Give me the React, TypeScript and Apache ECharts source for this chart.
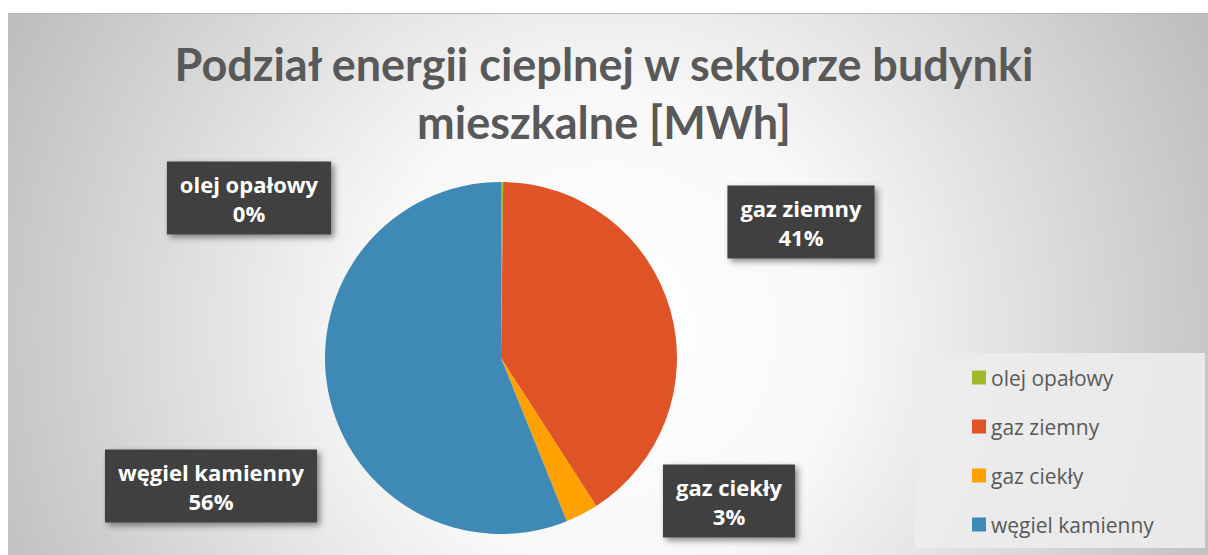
import React, { useEffect, useRef } from "react";
import * as echarts from "echarts";

const titleLines = ["Podział energii cieplnej w sektorze budynki", "mieszkalne [MWh]"];
const categories = ["olej opałowy", "gaz ziemny", "gaz ciekły", "węgiel kamienny"];
const shares = [0.2, 40.7, 3.0, 56.1];
const colors = ["#a5b82a", "#e05326", "#ffa101", "#3f89b6"];

export default function App() {
  const ref = useRef<HTMLDivElement>(null);
  useEffect(() => {
    if (!ref.current) return;
    const chart = echarts.init(ref.current, null, { renderer: "svg" });
    const total = shares.reduce((a, b) => a + b, 0);
    const labelCenters = [
      [249, 198],
      [801, 222],
      [729, 501],
      [211, 486],
    ];
    chart.setOption({
      animation: false,
      backgroundColor: "#ffffff",
      graphic: [
        {
          type: "rect",
          z: -10,
          silent: true,
          shape: { x: 8, y: 13, width: 1200, height: 542 },
          style: {
            fill: new echarts.graphic.RadialGradient(608, 330, 680, [
              { offset: 0, color: "#ffffff" },
              { offset: 0.35, color: "#f8f8f8" },
              { offset: 1, color: "#bcbcbc" },
            ], true),
          },
        },
        {
          type: "line",
          z: -9,
          silent: true,
          shape: { x1: 8, y1: 13.5, x2: 1208, y2: 13.5 },
          style: { stroke: "#b4b4b4", lineWidth: 1 },
        },
        {
          type: "rect",
          z: -8,
          silent: true,
          shape: { x: 915, y: 353, width: 290, height: 195 },
          style: { fill: "rgba(236,236,236,0.9)" },
        },
      ],
      title: {
        text: titleLines.join("\n"),
        left: "center",
        top: 30,
        textStyle: {
          fontFamily: "Lato",
          fontWeight: "bold",
          fontSize: 45,
          lineHeight: 58,
          color: "#595959",
        },
      },
      legend: {
        orient: "vertical",
        left: 967,
        top: 362,
        itemWidth: 14,
        itemHeight: 14,
        itemGap: 28,
        icon: "rect",
        data: categories,
        textStyle: {
          fontFamily: "Open Sans",
          fontSize: 21,
          lineHeight: 21,
          color: "#595959",
          padding: [0, 0, 0, 0],
        },
      },
      series: [
        {
          type: "pie",
          center: [501, 358],
          radius: 176,
          startAngle: 90,
          clockwise: true,
          avoidLabelOverlap: false,
          data: categories.map((name, i) => ({
            name,
            value: shares[i],
            itemStyle: { color: colors[i] },
          })),
          labelLine: { show: false },
          label: {
            show: true,
            formatter: (p: any) => `${p.name}\n${Math.round((p.value / total) * 100)}%`,
            color: "#ffffff",
            fontFamily: "Open Sans",
            fontWeight: "bold",
            fontSize: 22,
            lineHeight: 29,
            align: "center",
            backgroundColor: "#414141",
            padding: [8, 13, 7, 13],
            shadowColor: "rgba(0,0,0,0.45)",
            shadowBlur: 6,
            shadowOffsetX: 3,
            shadowOffsetY: 3,
          },
          labelLayout: (params: any) => {
            const c = labelCenters[params.dataIndex];
            return { x: c[0], y: c[1], align: "center", verticalAlign: "middle" };
          },
          emphasis: { disabled: true },
        },
      ],
    });
    return () => chart.dispose();
  }, []);
  return (
    <div
      ref={ref}
      style={{ position: "absolute", left: 0, top: 0, width: 1208, height: 555 }}
    />
  );
}
